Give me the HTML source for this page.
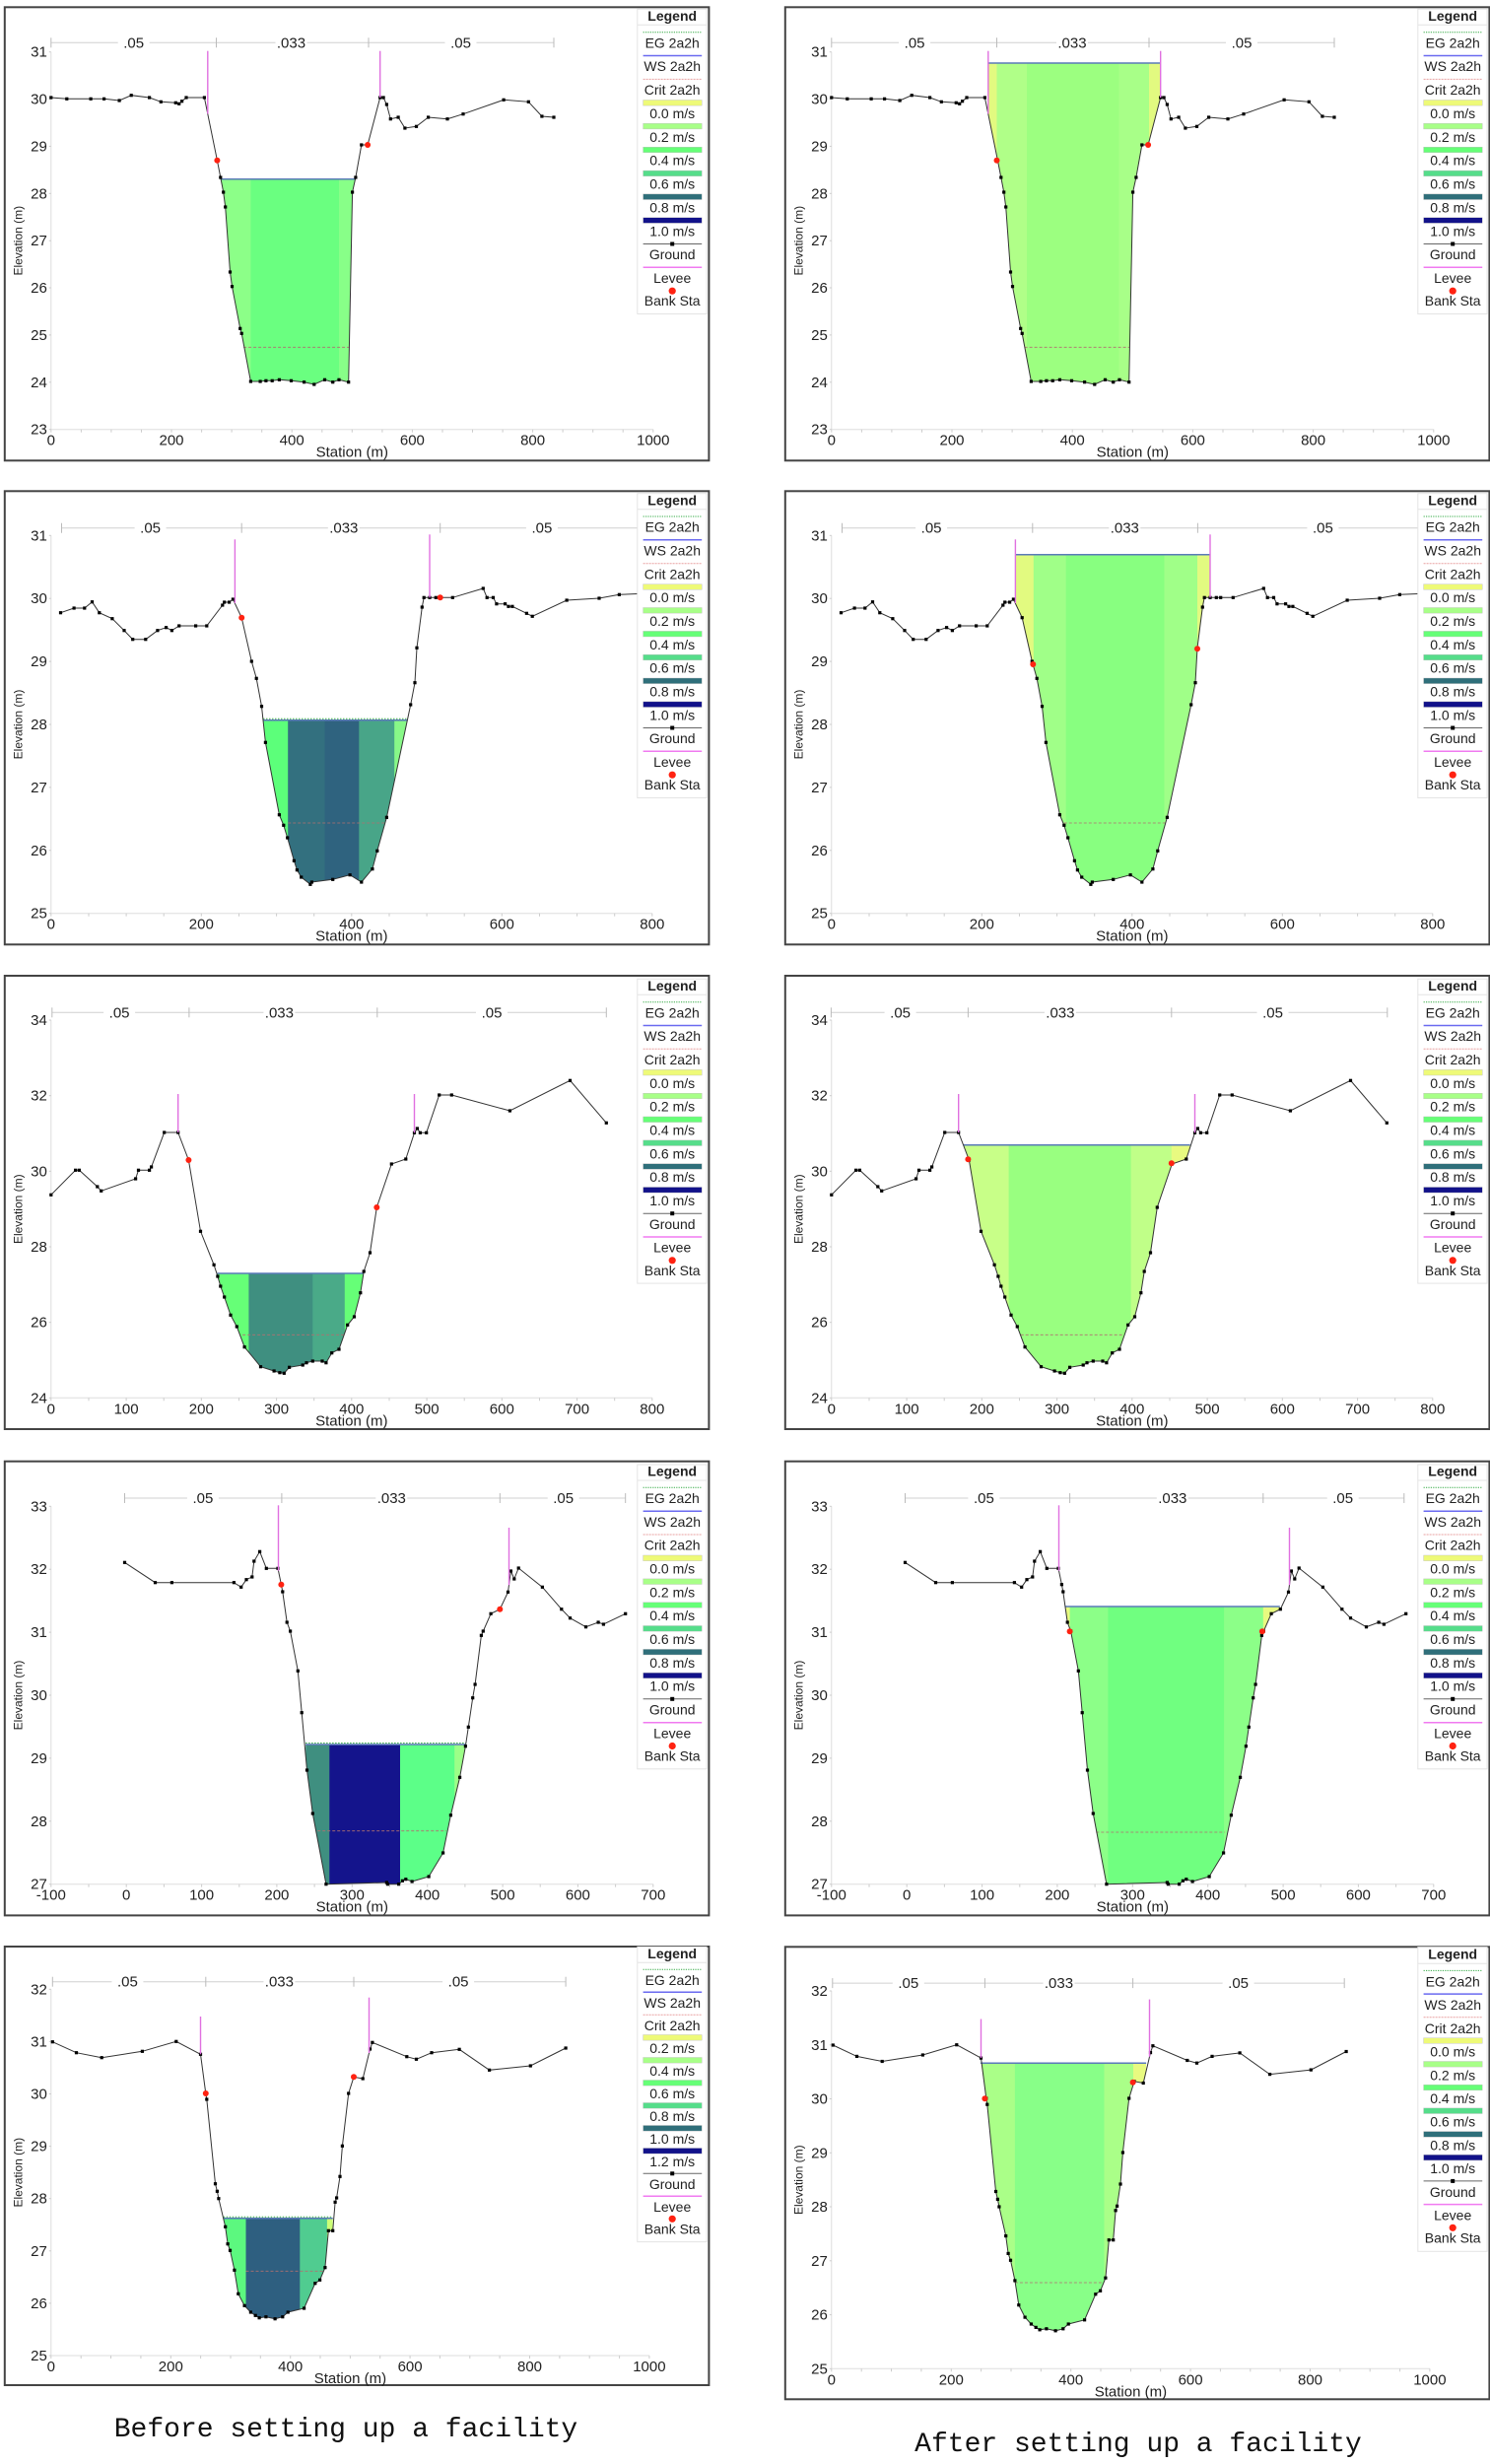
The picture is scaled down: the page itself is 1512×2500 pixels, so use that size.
<!DOCTYPE html>
<html><head><meta charset="utf-8"><style>
html,body{margin:0;padding:0;background:#fff}
svg{display:block}
.t{font-family:"Liberation Sans Narrow","Liberation Sans",sans-serif;font-size:15px;fill:#222}
.l{font-family:"Liberation Sans Narrow","Liberation Sans",sans-serif;font-size:14px;fill:#222}
.a{font-family:"Liberation Sans",sans-serif;font-size:12px;fill:#222}
.c{font-family:"Liberation Mono",monospace;font-size:28px;fill:#111}
</style></head><body>
<svg id="s" width="1512" height="2500" viewBox="0 0 1512 2500" xmlns="http://www.w3.org/2000/svg">
<text class="c" x="351" y="2472" text-anchor="middle">Before setting up a facility</text>
<text class="c" x="1155" y="2487" text-anchor="middle">After setting up a facility</text>
</svg>
<script>
const S=2.064;
const Y0='#eefa78',G2='#a8ff88',G4='#66ff77',G6='#55dd8a',T8='#2f6f7a',N1='#12128a';
const G={
1:[107,297,140,301,190,301,218,301,250,306,275,290,313,297,337,310,368,313,375,316,381,308,390,297,428,297,455,488,462,540,468,585,472,630,482,828,486,872,503,1000,506,1015,525,1161,545,1161,557,1159,570,1159,585,1156,610,1159,637,1163,658,1170,680,1156,697,1163,710,1156,730,1163,738,585,745,540,757,441,770,441,796,297,803,297,810,318,818,362,834,357,848,390,872,385,897,357,937,362,970,347,1055,304,1107,310,1135,354,1160,357],
2:[127,395,155,381,177,381,193,362,208,395,235,413,260,449,278,476,305,476,330,449,348,440,360,449,375,435,410,435,433,435,466,372,470,363,480,363,488,354,506,410,527,543,537,595,548,680,556,790,585,1010,594,1042,602,1080,616,1150,622,1178,631,1200,650,1222,653,1215,697,1207,733,1193,757,1215,780,1175,790,1120,810,1018,860,675,869,608,873,502,884,378,888,349,900,349,913,349,922,349,948,349,1012,321,1020,349,1033,349,1040,368,1058,368,1065,376,1073,376,1103,397,1115,406,1187,357,1255,351,1297,340,1347,337],
3:[107,697,158,622,166,622,204,672,212,685,284,648,290,622,313,622,317,612,344,507,373,507,395,591,420,808,448,910,456,945,462,975,470,1008,483,1063,496,1098,512,1160,546,1220,574,1233,586,1238,595,1240,606,1222,634,1215,642,1208,655,1203,675,1203,683,1208,695,1178,710,1167,728,1093,742,1068,755,995,762,930,775,873,789,735,820,603,850,588,868,508,874,495,880,508,893,508,920,393,946,393,1068,441,1194,349,1270,478],
4:[261,346,325,407,360,407,490,407,505,421,516,398,528,390,532,342,544,313,558,364,582,364,589,413,592,435,601,528,608,555,624,676,632,803,643,978,655,1110,683,1325,810,1320,812,1325,835,1325,843,1315,850,1310,863,1317,898,1302,928,1230,944,1115,963,1000,975,905,981,847,990,758,995,717,1008,568,1012,555,1028,502,1047,488,1064,436,1070,372,1077,396,1086,363,1136,421,1176,488,1194,515,1227,542,1253,528,1264,534,1310,502],
5:[110,335,160,368,213,383,298,364,369,334,420,373,431,492,433,510,451,767,455,790,458,812,472,898,477,950,482,970,491,1030,499,1102,512,1138,525,1158,535,1168,543,1175,557,1172,576,1178,592,1172,603,1158,637,1146,660,1070,670,1060,681,1022,688,910,697,910,702,823,705,810,712,745,717,652,730,492,741,442,760,447,775,357,780,337,852,380,872,388,904,368,962,358,1025,421,1111,408,1185,354]};
const AX={
1:{xr:[0,1000,200,50],cx:[107,1368],yr:[23,31,1],cy:[1307,158],box:[10,22,1485,1402],lg:[48,98,71.6],my:130,lev:[[435,155],[796,155]]},
2:{xr:[0,800,200,50],cx:[107,1366],yr:[25,31,1],cy:[1310,160],box:[10,25,1485,1405],lg:[52,102,71.5],my:137,lev:[[492,172],[900,157]]},
3:{xr:[0,800,100,50],cx:[107,1366],yr:[24,34,2],cy:[1315,165],box:[10,30,1485,1410],lg:[60,110,71.5],my:142,lev:[[373,390],[868,390]]},
4:{xr:[-100,700,100,50],cx:[107,1368],yr:[27,33,1],cy:[1325,175],box:[10,38,1485,1420],lg:[68,118,71.5],my:150,lev:[[583,172],[1066,240]]},
5:{xr:[0,1000,200,50],cx:[107,1360],yr:[25,32,1],cy:[1290,175],box:[10,45,1485,1380],lg:[66,115,69],my:152,lev:[[420,258],[773,200]]}};
const V1=['0.0 m/s','0.2 m/s','0.4 m/s','0.6 m/s','0.8 m/s','1.0 m/s'],V5=['0.2 m/s','0.4 m/s','0.6 m/s','0.8 m/s','1.0 m/s','1.2 m/s'];
const P=[
{g:1,X0:0,cy:0,ws:545,a:462,b:745,st:[[462,525,'#8cff88'],[525,710,'#6aff80'],[710,745,'#88ff88']],cr:[1057,510,732],eg:0,bk:[[455,488],[770,441]],mt:[107,453,772,1160],ml:[[280,'.05'],[610,'.033'],[965,'.05']],v:V1},
{g:1,X0:792,cy:0,ws:192,a:434,b:796,lv:1,st:[[434,453,'#e2fa80'],[453,516,'#b0ff88'],[516,709,'#9cff80'],[709,772,'#a8ff88'],[772,796,'#e2fa80']],cr:[1057,511,731],eg:0,bk:[[453,488],[770,441]],mt:[107,453,772,1160],ml:[[281,'.05'],[611,'.033'],[966,'.05']],v:V1},
{g:2,X0:0,cy:490,ws:722,a:551,b:853,st:[[551,603,'#5cff7a'],[603,680,'#33707f'],[680,752,'#2f637f'],[752,826,'#48a588'],[826,853,'#88f888']],cr:[1035,603,805],eg:1,bk:[[506,410],[922,349]],mt:[129,506,922,1347],ml:[[315,'.05'],[720,'.033'],[1135,'.05']],v:V1},
{g:2,X0:792,cy:490,ws:218,a:492,b:900,lv:1,st:[[492,530,'#e2fa80'],[530,598,'#a0ff88'],[598,804,'#88ff80'],[804,873,'#a0ff88'],[873,900,'#e2fa80']],cr:[1035,594,810],eg:0,bk:[[529,552],[873,505]],mt:[129,528,874,1346],ml:[[316,'.05'],[721,'.033'],[1136,'.05']],v:V1},
{g:3,X0:0,cy:980,ws:936,a:455,b:762,st:[[455,521,'#66ff77'],[521,655,'#3f8f80'],[655,722,'#4aaa88'],[722,762,'#66ff77']],cr:[1123,508,722],eg:0,bk:[[395,591],[789,735]],mt:[109,396,790,1270],ml:[[250,'.05'],[585,'.033'],[1030,'.05']],v:V1},
{g:3,X0:792,cy:980,ws:545,a:383,b:858,st:[[383,478,'#c8ff88'],[478,734,'#99ff80'],[734,819,'#c0ff88'],[819,858,'#e8fa80']],cr:[1123,503,718],eg:0,bk:[[393,589],[819,601]],mt:[106,393,819,1271],ml:[[251,'.05'],[586,'.033'],[1031,'.05']],v:V1},
{g:4,X0:0,cy:1470,ws:900,a:640,b:975,st:[[640,690,'#3f8f80'],[690,838,'#14148c'],[838,952,'#5cff88'],[952,975,'#9cff88']],cr:[1163,665,935],eg:1,bk:[[589,413],[1047,488]],mt:[261,590,1047,1310],ml:[[425,'.05'],[820,'.033'],[1180,'.05']],v:V1},
{g:4,X0:792,cy:1470,ws:480,a:596,b:1046,st:[[596,606,'#e8fa80'],[606,686,'#8cff88'],[686,929,'#70ff80'],[929,1011,'#8cff88'],[1011,1046,'#e8fa80']],cr:[1167,661,931],eg:0,bk:[[606,556],[1009,556]],mt:[261,606,1011,1306],ml:[[426,'.05'],[821,'.033'],[1178,'.05']],v:V1},
{g:5,X0:0,cy:1960,ws:872,a:468,b:697,st:[[468,515,'#5cf87f'],[515,628,'#2e5f80'],[628,685,'#50cc90'],[685,697,'#ccff77']],cr:[1033,515,680],eg:1,bk:[[431,492],[741,442]],mt:[110,431,741,1185],ml:[[267,'.05'],[585,'.033'],[960,'.05']],v:V5},
{g:5,X0:792,r5:1,ws:388,a:419,b:766,lv:1,st:[[419,423,'#e8fa80'],[423,491,'#aaff88'],[491,678,'#88ff88'],[678,739,'#aaff88'],[739,766,'#e8fa80']],cr:[1036,491,676],eg:0,bk:[[428,493],[738,445]],mt:[109,428,738,1181],ml:[[268,'.05'],[583,'.033'],[959,'.05']],v:V1}
];
let out='',cid=0;
function gy(pts,ox){for(let i=0;i<pts.length-2;i+=2){let x1=pts[i],x2=pts[i+2];if(ox>=x1&&ox<=x2){let t=x2==x1?0:(ox-x1)/(x2-x1);return pts[i+1]+t*(pts[i+3]-pts[i+1]);}}return pts[1];}
for(const p of P){
 const ax=AX[p.g],g=G[p.g];
 const X=o=>(p.X0+o/S);
 const Y=p.r5?(o=>2020+(o-175)*0.3438):(o=>p.cy+o/3);
 const DX=v=>ax.cx[0]+(v-ax.xr[0])/(ax.xr[1]-ax.xr[0])*(ax.cx[1]-ax.cx[0]);
 const DY=v=>ax.cy[0]+(v-ax.yr[0])/(ax.yr[1]-ax.yr[0])*(ax.cy[1]-ax.cy[0]);
 const f=n=>n.toFixed(1);
 let s='';
 const b=ax.box;
 s+=`<rect x="${f(X(b[0]))}" y="${f(Y(b[1]))}" width="${f((b[2]-b[0])/S)}" height="${f(Y(b[3])-Y(b[1]))}" fill="#fff" stroke="#444" stroke-width="2"/>`;
 const x0=X(ax.cx[0]),x1=X(ax.cx[1]),yb=Y(ax.cy[0]),yt=Y(ax.cy[1]);
 s+=`<line x1="${f(x0)}" y1="${f(yt)}" x2="${f(x0)}" y2="${f(yb)}" stroke="#ddd"/><line x1="${f(x0)}" y1="${f(yb)}" x2="${f(x1)}" y2="${f(yb)}" stroke="#ddd"/>`;
 for(let v=ax.xr[0];v<=ax.xr[1]+1e-6;v+=ax.xr[3]){const xx=X(DX(v));s+=`<line x1="${f(xx)}" y1="${f(yb)}" x2="${f(xx)}" y2="${f(yb+3)}" stroke="#ccc"/>`;}
 for(let v=ax.xr[0];v<=ax.xr[1]+1e-6;v+=ax.xr[2]){const xx=X(DX(v));s+=`<text class="t" x="${f(xx)}" y="${f(yb+16)}" text-anchor="middle">${v}</text>`;}
 for(let v=ax.yr[0];v<=ax.yr[1]+1e-6;v+=ax.yr[2]){const yy=Y(DY(v));s+=`<text class="t" x="${f(x0-4)}" y="${f(yy+5)}" text-anchor="end">${v}</text><line x1="${f(x0-2)}" y1="${f(yy)}" x2="${f(x0)}" y2="${f(yy)}" stroke="#ccc"/>`;}
 s+=`<text class="t" x="${f((x0+x1)/2)}" y="${f(yb+28)}" text-anchor="middle">Station (m)</text>`;
 const ym=(yt+yb)/2,xe=X(38);
 s+=`<text class="a" transform="translate(${f(xe+4)},${f(ym)}) rotate(-90)" text-anchor="middle" font-size="13">Elevation (m)</text>`;
 const my=Y(ax.my);
 s+=`<line x1="${f(X(p.mt[0]))}" y1="${f(my)}" x2="${f(X(p.mt[3]))}" y2="${f(my)}" stroke="#d0d0d0"/>`;
 for(const t of p.mt)s+=`<line x1="${f(X(t))}" y1="${f(my-5)}" x2="${f(X(t))}" y2="${f(my+5)}" stroke="#bbb"/>`;
 for(const [o,txt] of p.ml)s+=`<rect x="${f(X(o)-16)}" y="${f(my-8)}" width="32" height="16" fill="#fff"/><text class="t" x="${f(X(o))}" y="${f(my+5)}" text-anchor="middle">${txt}</text>`;
 cid++;
 let poly=[[p.a,p.ws]];
 for(let i=0;i<g.length;i+=2){if(g[i]>p.a&&g[i]<p.b)poly.push([g[i],Math.max(g[i+1],p.ws)]);}
 poly.push([p.b,Math.max(gy(g,p.b),p.ws)]);poly.push([p.b,p.ws]);
 poly.splice(1,0,[p.a,Math.max(gy(g,p.a),p.ws)]);
 s+=`<clipPath id="c${cid}"><polygon points="${poly.map(q=>f(X(q[0]))+','+f(Y(q[1]))).join(' ')}"/></clipPath><g clip-path="url(#c${cid})">`;
 for(const [a,bb,c] of p.st)s+=`<rect x="${f(X(a))}" y="${f(Y(p.ws))}" width="${f((bb-a)/S+0.5)}" height="${f(Y(1400)-Y(p.ws))}" fill="${c}"/>`;
 s+=`</g>`;
 s+=`<line x1="${f(X(p.cr[1]))}" y1="${f(Y(p.cr[0]))}" x2="${f(X(p.cr[2]))}" y2="${f(Y(p.cr[0]))}" stroke="#b07070" stroke-dasharray="3,2" stroke-width="0.8"/>`;
 if(p.eg)s+=`<line x1="${f(X(p.a))}" y1="${f(Y(p.ws)-1.5)}" x2="${f(X(p.b))}" y2="${f(Y(p.ws)-1.5)}" stroke="#33aa44" stroke-dasharray="1.5,1.5"/>`;
 s+=`<line x1="${f(X(p.a))}" y1="${f(Y(p.ws))}" x2="${f(X(p.b))}" y2="${f(Y(p.ws))}" stroke="#5a7ab8" stroke-width="1.5"/>`;
 let gp=[];for(let i=0;i<g.length;i+=2)gp.push(f(X(g[i]))+','+f(Y(g[i+1])));
 s+=`<polyline points="${gp.join(' ')}" fill="none" stroke="#333" stroke-width="1"/>`;
 for(let i=0;i<g.length;i+=2)s+=`<rect x="${f(X(g[i])-1.6)}" y="${f(Y(g[i+1])-1.6)}" width="3.2" height="3.2" fill="#000"/>`;
 for(const [o,t] of ax.lev){const gg=gy(g,o);s+=`<line x1="${f(X(o))}" y1="${f(Y(t))}" x2="${f(X(o))}" y2="${f(Y(gg))}" stroke="#e070e0" stroke-width="1.4"/>`;}
 for(const [o,oy] of p.bk)s+=`<circle cx="${f(X(o))}" cy="${f(Y(oy))}" r="3" fill="#f21"/>`;
 const [lt,l0,ls]=ax.lg;const lx0=X(1335),lx1=X(1480),lc=X(1408),sx0=X(1347),sx1=X(1470);
 const ltop=Y(lt-20),lbot=Y(l0+11*ls+70);
 s+=`<rect x="${f(lx0)}" y="${f(ltop)}" width="${f(lx1-lx0)}" height="${f(lbot-ltop)}" fill="#fff" stroke="#e4e4e4"/>`;
 s+=`<text class="l" x="${f(lc)}" y="${f(Y(lt)+5)}" text-anchor="middle" font-weight="bold">Legend</text><line x1="${f(lx0)}" y1="${f(Y(lt+28))}" x2="${f(lx1)}" y2="${f(Y(lt+28))}" stroke="#e4e4e4"/>`;
 const labs=['EG 2a2h','WS 2a2h','Crit 2a2h',...p.v,'Ground','Levee','Bank Sta'];
 const vc=[Y0,G2,G4,G6,T8,N1];
 for(let i=0;i<12;i++){const sy=Y(l0+i*ls);
  if(i==0)s+=`<line x1="${f(sx0)}" y1="${f(sy)}" x2="${f(sx1)}" y2="${f(sy)}" stroke="#33aa44" stroke-dasharray="1.2,1.2"/>`;
  else if(i==1)s+=`<line x1="${f(sx0)}" y1="${f(sy)}" x2="${f(sx1)}" y2="${f(sy)}" stroke="#6a6af0" stroke-width="1.5"/>`;
  else if(i==2)s+=`<line x1="${f(sx0)}" y1="${f(sy)}" x2="${f(sx1)}" y2="${f(sy)}" stroke="#e8a0a0" stroke-dasharray="2,1"/>`;
  else if(i<9)s+=`<rect x="${f(sx0)}" y="${f(sy-2.8)}" width="${f(sx1-sx0)}" height="5.6" fill="${vc[i-3]}" stroke="#bbb" stroke-width="0.4"/>`;
  else if(i==9)s+=`<line x1="${f(sx0)}" y1="${f(sy)}" x2="${f(sx1)}" y2="${f(sy)}" stroke="#666"/><rect x="${f(lc-2)}" y="${f(sy-2)}" width="4" height="4" fill="#000"/>`;
  else if(i==10)s+=`<line x1="${f(sx0)}" y1="${f(sy)}" x2="${f(sx1)}" y2="${f(sy)}" stroke="#f07af0" stroke-width="1.5"/>`;
  else s+=`<circle cx="${f(lc)}" cy="${f(sy)}" r="3.6" fill="#f21"/>`;
  const ly=(i==11)?Y(l0+i*ls+30)+5:Y(l0+i*ls+32)+5;
  s+=`<text class="l" x="${f(lc)}" y="${f(ly)}" text-anchor="middle">${labs[i]}</text>`;
 }
 out+=s;
}
document.getElementById('s').insertAdjacentHTML('afterbegin',out);
</script>
</body></html>
